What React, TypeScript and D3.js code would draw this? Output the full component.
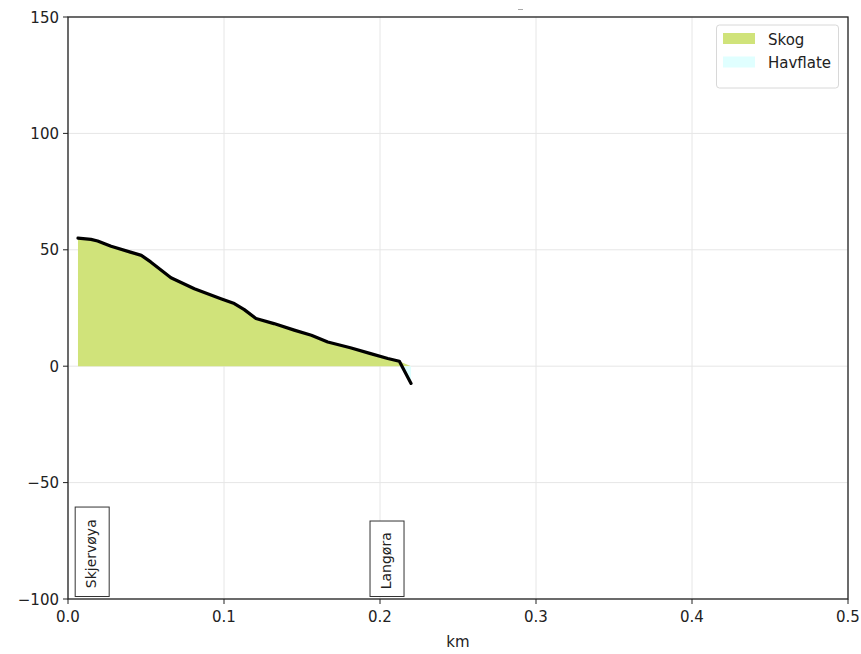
import React from "react";
import * as d3 from "d3";

const distKm = [0.0064, 0.0147, 0.019, 0.0276, 0.04, 0.047, 0.053, 0.066, 0.081, 0.098, 0.1066, 0.113, 0.1205, 0.132, 0.145, 0.156, 0.1665, 0.181, 0.194, 0.205, 0.2124, 0.2199];
const elevation = [55, 54.5, 53.8, 51.5, 49, 47.6, 44.8, 38, 33.3, 29, 26.9, 24.3, 20.5, 18.3, 15.5, 13.3, 10.4, 7.9, 5.4, 3.3, 2.1, -7.4];
const xTicks = [0, 0.1, 0.2, 0.3, 0.4, 0.5];
const yTicks = [-100, -50, 0, 50, 100, 150];
const placeNames = ["Skjervøya", "Langøra"];
const placeX = [0.0155, 0.2045];
const placeTop = [-60.5, -66.5];
const legendLabels = ["Skog", "Havflate"];
const legendColors = ["#d0e37a", "#e0ffff"];

const W = 861, H = 654;
const L = 68, R = 848, T = 17, B = 599;

export default function App() {
  const x = d3.scaleLinear().domain([0, 0.5]).range([L, R]);
  const y = d3.scaleLinear().domain([-100, 150]).range([B, T]);
  const pts = distKm.map((d, i) => [d, elevation[i]] as [number, number]);

  const areaPos = d3.area<[number, number]>()
    .x(d => x(d[0])).y0(y(0)).y1(d => y(Math.max(0, d[1])));
  const areaNeg = d3.area<[number, number]>()
    .x(d => x(d[0])).y0(y(0)).y1(d => y(Math.min(0, d[1])));
  const line = d3.line<[number, number]>().x(d => x(d[0])).y(d => y(d[1]));
  const font = "DejaVu Sans, sans-serif";

  return (
    <svg width={W} height={H} style={{ position: "absolute", left: 0, top: 0, background: "#fff" }}>
      {xTicks.map(t => (
        <line key={"gx" + t} x1={x(t)} x2={x(t)} y1={T} y2={B} stroke="#e6e6e6" strokeWidth={1} />
      ))}
      {yTicks.map(t => (
        <line key={"gy" + t} x1={L} x2={R} y1={y(t)} y2={y(t)} stroke="#e6e6e6" strokeWidth={1} />
      ))}
      <path d={areaPos(pts) || ""} fill={legendColors[0]} />
      <path d={areaNeg(pts) || ""} fill={legendColors[1]} />
      <path d={line(pts) || ""} fill="none" stroke="#000" strokeWidth={3.2} strokeLinejoin="round" strokeLinecap="round" />
      <rect x={L} y={T} width={R - L} height={B - T} fill="none" stroke="#222" strokeWidth={1.3} />
      {xTicks.map(t => (
        <g key={"xt" + t}>
          <line x1={x(t)} x2={x(t)} y1={B} y2={B + 5} stroke="#222" />
          <text x={x(t)} y={B + 23} textAnchor="middle" fontFamily={font} fontSize={15} fill="#222">{t.toFixed(1)}</text>
        </g>
      ))}
      {yTicks.map(t => (
        <g key={"yt" + t}>
          <line x1={L - 5} x2={L} y1={y(t)} y2={y(t)} stroke="#222" />
          <text x={L - 9} y={y(t) + 5.5} textAnchor="end" fontFamily={font} fontSize={15} fill="#222">{t < 0 ? "\u2212" + Math.abs(t) : t}</text>
        </g>
      ))}
      <text x={(L + R) / 2} y={647} textAnchor="middle" fontFamily={font} fontSize={15} fill="#222">km</text>
      {placeNames.map((n, i) => {
        const cx = x(placeX[i]);
        const top = y(placeTop[i]);
        const bot = 596.5;
        return (
          <g key={n}>
            <rect x={cx - 17} y={top} width={34} height={bot - top} fill="#fff" stroke="#333" strokeWidth={1} />
            <text transform={`translate(${cx + 4},${(top + bot) / 2 + 2}) rotate(-90)`} textAnchor="middle" fontFamily={font} fontSize={14} fill="#222">{n}</text>
          </g>
        );
      })}
      <rect x={716.5} y={25} width={122} height={63} rx={3} fill="#fff" stroke="#d8d8d8" strokeWidth={1} />
      {legendLabels.map((l, i) => (
        <g key={l}>
          <rect x={723} y={33 + i * 23.5} width={32} height={11} fill={legendColors[i]} />
          <text x={768} y={44.5 + i * 23.5} fontFamily={font} fontSize={15} fill="#222">{l}</text>
        </g>
      ))}
      <line x1={518} x2={523} y1={9.5} y2={9.5} stroke="#aaa" strokeWidth={1} />
    </svg>
  );
}
